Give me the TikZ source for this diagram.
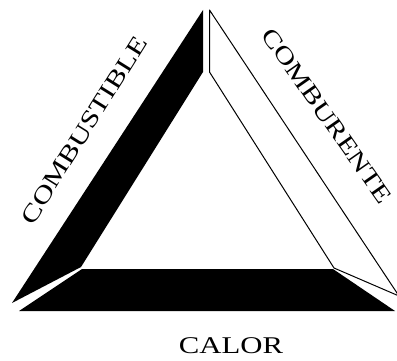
\documentclass[tikz,border=0pt]{standalone}
\usepackage{fontspec}
\setmainfont{Liberation Serif}
\begin{document}
\begin{tikzpicture}[x=1pt,y=-1pt,
  solidpiece/.style={fill=black,draw=none},
  openpiece/.style={fill=white,draw=black,line width=1pt,line join=round},
  sidelabel/.style={inner sep=0pt,font=\fontsize{24}{24}\selectfont}]
\useasboundingbox (0,0) rectangle (397,361);
% left strip (black)
\fill[solidpiece] (203,10) -- (203,72) -- (81,267) -- (12,303) -- cycle;
% right strip (outlined)
\draw[openpiece] (209.5,10) -- (209.5,72) -- (334,268) -- (399,296) -- cycle;
% bottom bar (black)
\fill[solidpiece] (82,269) -- (333,269) -- (395,311) -- (19,311) -- cycle;
% labels
\node[sidelabel,rotate=58] (comb) at (84,130) {\scalebox{1.28}[1]{COMBUSTIBLE}};
\node[sidelabel,rotate=-55] (comburente) at (327,116) {\scalebox{1.26}[1]{COMBURENTE}};
\node[sidelabel] (calor) at (231,346) {\scalebox{1.28}[1]{CALOR}};
\end{tikzpicture}
\end{document}
